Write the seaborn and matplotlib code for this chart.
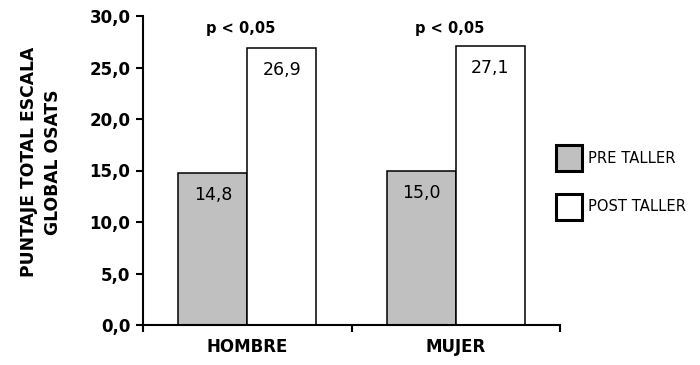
import matplotlib
matplotlib.use("Agg")
import matplotlib.pyplot as plt
from matplotlib.patches import Patch
import numpy as np
import pandas as pd
import seaborn as sns

# data
grupos = ['HOMBRE', 'MUJER']
momentos = ['PRE TALLER', 'POST TALLER']
pre_taller = [14.8, 15.0]
post_taller = [26.9, 27.1]
p_valores = ['p < 0,05', 'p < 0,05']
colores = ['#c0c0c0', '#ffffff']

df = pd.DataFrame({
    'grupo': grupos * 2,
    'momento': [momentos[0]] * 2 + [momentos[1]] * 2,
    'valor': pre_taller + post_taller,
})

sns.set_style('white')
plt.rcParams['font.family'] = ['DejaVu Sans']
plt.rcParams['text.color'] = 'black'
plt.rcParams['axes.labelcolor'] = 'black'
plt.rcParams['xtick.color'] = 'black'
plt.rcParams['ytick.color'] = 'black'

fig = plt.figure(figsize=(7, 3.65), dpi=100)
ax = fig.add_axes([143 / 700, 1 - 325 / 365, 417 / 700, 309 / 365])

sns.barplot(data=df, x='grupo', y='valor', hue='momento', hue_order=momentos,
            palette=colores, edgecolor='black', linewidth=1.1, width=0.66,
            errorbar=None, legend=False, ax=ax)

# value labels just under each bar top
for p in ax.patches:
    h = p.get_height()
    if h > 0:
        ax.annotate(f'{h:.1f}'.replace('.', ','),
                    (p.get_x() + p.get_width() / 2, h),
                    xytext=(0, -16), textcoords='offset points',
                    ha='center', va='center', fontsize=12.5, color='black')

# significance above each group
for i, txt in enumerate(p_valores):
    ax.text(i - 0.03, 28.8, txt, ha='center', va='center',
            fontsize=10.5, fontweight='bold', color='black')

ax.set_xlim(-0.5, 1.5)
ax.set_ylim(0, 30)
ax.set_yticks(np.arange(0, 31, 5))
ax.set_yticklabels([f'{v:.1f}'.replace('.', ',') for v in np.arange(0, 31, 5)],
                   fontsize=12, fontweight='bold')
ax.set_xticks([0, 1])
ax.set_xticklabels(grupos, fontsize=12, fontweight='bold')
ax.set_xticks([-0.5, 0.5, 1.5], minor=True)
ax.tick_params(axis='x', which='major', length=0, pad=9)
ax.tick_params(axis='x', which='minor', length=5, width=1.5, direction='out', bottom=True)
ax.tick_params(axis='y', which='major', length=5, width=1.5, direction='out', left=True, pad=4)

ax.set_xlabel('')
ax.set_ylabel('PUNTAJE TOTAL ESCALA\nGLOBAL OSATS', fontsize=12.3,
              fontweight='bold', linespacing=1.45)
ax.yaxis.set_label_coords(-0.194, 0.527)

for s in ['top', 'right']:
    ax.spines[s].set_visible(False)
for s in ['left', 'bottom']:
    ax.spines[s].set_linewidth(1.5)
    ax.spines[s].set_color('black')

handles = [Patch(facecolor=c, edgecolor='black', linewidth=2.2) for c in colores]
fig.legend(handles, momentos, loc='upper left',
           bbox_to_anchor=(556 / 700, 1 - 145 / 365), frameon=False,
           fontsize=10.6, handlelength=1.75, handleheight=2.35,
           handletextpad=0.45, labelspacing=1.53, borderpad=0, borderaxespad=0)

fig.savefig('out.png', dpi=100)
